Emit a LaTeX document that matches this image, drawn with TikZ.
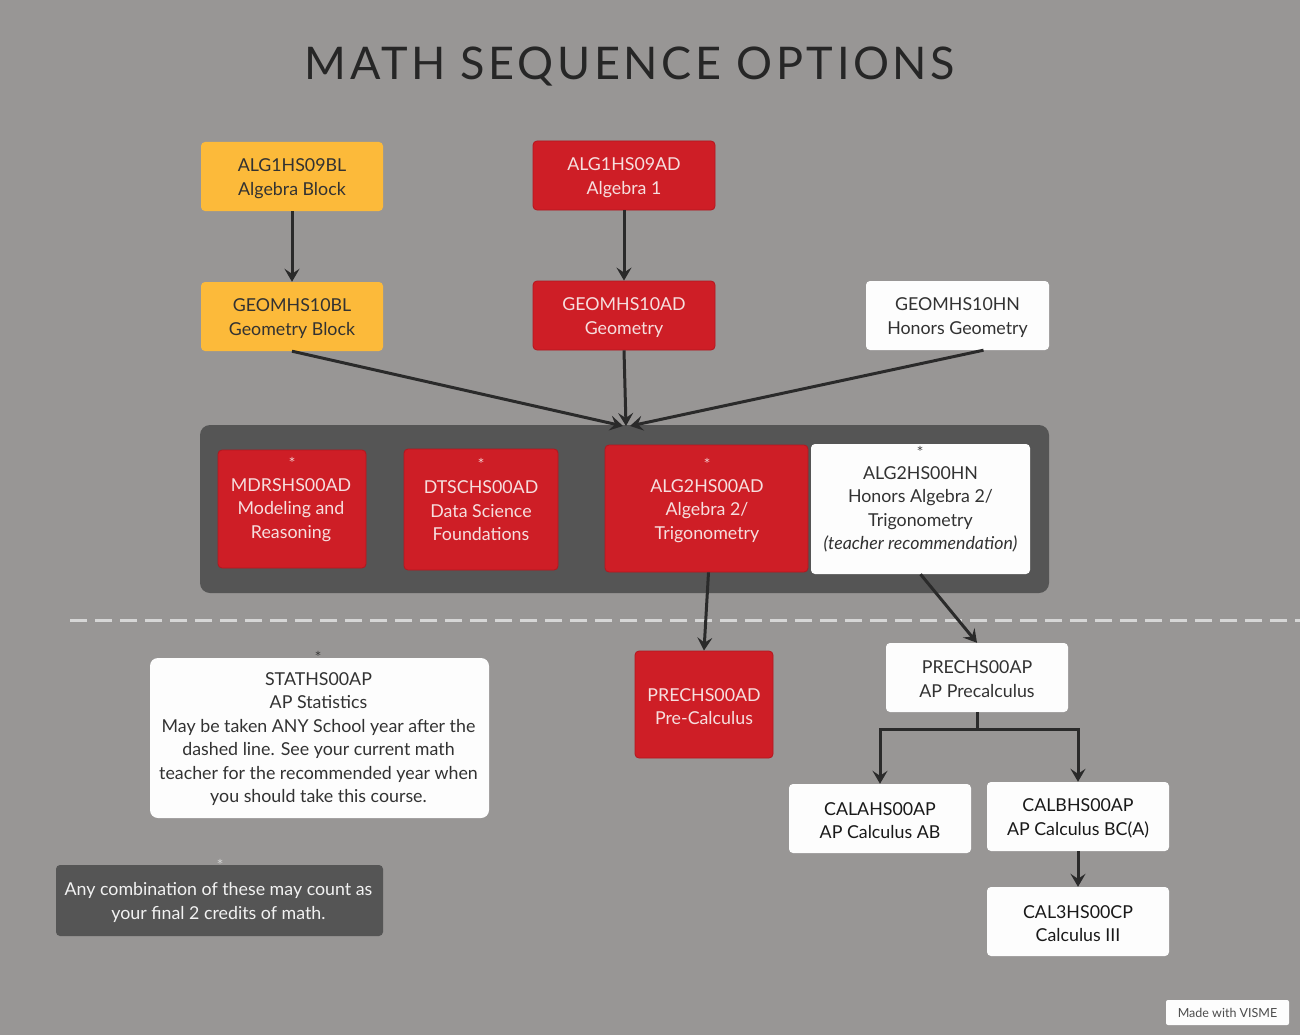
\documentclass[tikz,border=0pt]{standalone}
\usepackage{fontspec}
\setmainfont{Lato}
\newfontfamily\titlefont{Lato}[LetterSpace=8]
\newfontfamily\starfont{DejaVu Sans}
\usetikzlibrary{arrows.meta}
\definecolor{bg}{RGB}{152,150,149}
\definecolor{cred}{RGB}{206,30,38}
\definecolor{credd}{RGB}{180,22,30}
\definecolor{cyel}{RGB}{252,186,58}
\definecolor{cpanel}{RGB}{85,85,85}
\definecolor{cwhite}{RGB}{253,253,253}
\definecolor{redtxt}{RGB}{246,222,222}
\definecolor{darktxt}{RGB}{50,50,50}
\definecolor{arrcol}{RGB}{42,42,42}
\definecolor{dashcol}{RGB}{214,214,214}
\tikzset{
  box/.style={rounded corners=4pt, inner sep=0pt},
  redbox/.style={box, fill=cred, draw=credd, line width=0.8pt},
  yelbox/.style={box, fill=cyel},
  whitebox/.style={box, fill=cwhite},
  txt/.style={align=center, inner sep=0pt, yshift=-2pt, font=\fontsize{17.8}{23.5}\selectfont},
  redtext/.style={txt, text=redtxt},
  darktext/.style={txt, text=darktxt},
  star/.style={inner sep=0pt, anchor=north, font=\starfont\fontsize{11}{11}\selectfont},
  arr/.style={draw=arrcol, line width=3pt, -{Stealth[length=13pt,width=15pt,inset=5pt]}},
  seg/.style={draw=arrcol, line width=3pt},
}
\begin{document}
\begin{tikzpicture}[x=1pt,y=-1pt]
\fill[bg] (0,0) rectangle (1300,1035);
\useasboundingbox (0,0) rectangle (1300,1035);

% title
\node[inner sep=0pt, text=black!85, font=\titlefont\fontsize{45}{45}\selectfont] (title) at (630,67) {MATH SEQUENCE OPTIONS};

% top row
\node[yelbox, minimum width=182pt, minimum height=69pt] (alg1bl) at (292,176.5) {};
\node[darktext] (alg1blt) at (292,176.5) {ALG1HS09BL\\Algebra Block};
\node[yelbox, minimum width=182pt, minimum height=69pt] (geombl) at (292,316.5) {};
\node[darktext] (geomblt) at (292,316.5) {GEOMHS10BL\\Geometry Block};
\node[redbox, minimum width=182pt, minimum height=69pt] (alg1ad) at (624,175.5) {};
\node[redtext] (alg1adt) at (624,175.5) {ALG1HS09AD\\Algebra 1};
\node[redbox, minimum width=182pt, minimum height=69pt] (geomad) at (624,315.5) {};
\node[redtext] (geomadt) at (624,315.5) {GEOMHS10AD\\Geometry};
\node[whitebox, minimum width=183pt, minimum height=69pt] (geomhn) at (957.5,315.5) {};
\node[darktext] (geomhnt) at (957.5,315.5) {GEOMHS10HN\\Honors Geometry};

% panel
\node[box, rounded corners=10pt, fill=cpanel, minimum width=849pt, minimum height=168pt] (panel) at (624.5,509) {};
\node[redbox, minimum width=148pt, minimum height=118pt] (mdrs) at (292,509) {};
\node[star, text=redtxt] (mdrss) at (292,457) {*};
\node[redtext] (mdrst) at (291,508) {MDRSHS00AD\\Modeling and\\Reasoning};
\node[redbox, minimum width=154pt, minimum height=121pt] (dtsc) at (481,509.5) {};
\node[star, text=redtxt] (dtscs) at (481,458) {*};
\node[redtext] (dtsct) at (481,509) {DTSCHS00AD\\Data Science\\Foundations};
\node[redbox, minimum width=203pt, minimum height=127pt] (alg2ad) at (706.5,508.5) {};
\node[star, text=redtxt] (alg2ads) at (707,458) {*};
\node[redtext] (alg2adt) at (707,509) {ALG2HS00AD\\Algebra 2/\\Trigonometry};
\node[whitebox, minimum width=219pt, minimum height=130pt] (alg2hn) at (920.5,509) {};
\node[star, text=darktxt] (alg2hns) at (920,446) {*};
\node[darktext] (alg2hnt) at (920.5,507.5) {ALG2HS00HN\\Honors Algebra 2/\\Trigonometry\\\textit{(teacher recommendation)}};

% dashed line
\coordinate (dashL) at (70,620);
\coordinate (dashR) at (1300,620);
\draw[dashcol, line width=3pt, dash pattern=on 17pt off 8pt] (dashL) -- (dashR);

% lower left
\node[whitebox, rounded corners=8pt, minimum width=339pt, minimum height=160pt] (stat) at (319.5,738) {};
\node[star, text=darktxt] (stats) at (318,651) {*};
\node[darktext] (statt) at (318.5,737) {STATHS00AP\\AP Statistics\\May be taken ANY School year after the\\dashed line. See your current math\\teacher for the recommended year when\\you should take this course.};
\node[box, fill=cpanel, minimum width=327pt, minimum height=71pt] (note) at (219.5,900.5) {};
\node[star, text=white!85!black] (notes) at (220,859) {*};
\node[txt, text=white!95!black] (notet) at (218.5,900.5) {Any combination of these may count as\\your final 2 credits of math.};

% precalc
\node[redbox, minimum width=138pt, minimum height=107pt] (prec) at (704,704.5) {};
\node[redtext] (prect) at (704,704.5) {PRECHS00AD\\Pre-Calculus};
\node[whitebox, minimum width=182pt, minimum height=69pt] (precap) at (977,677.5) {};
\node[darktext] (precapt) at (977,677) {PRECHS00AP\\AP Precalculus};
\node[whitebox, minimum width=182pt, minimum height=69pt] (cala) at (880,818.5) {};
\node[darktext, text=black!90] (calat) at (880,818.5) {CALAHS00AP\\AP Calculus AB};
\node[whitebox, minimum width=182pt, minimum height=69pt] (calb) at (1078,816.5) {};
\node[darktext, text=black!90] (calbt) at (1078,816.5) {CALBHS00AP\\AP Calculus BC(A)};
\node[whitebox, minimum width=182pt, minimum height=69pt] (cal3) at (1078,921.5) {};
\node[darktext, text=black!90] (cal3t) at (1078,921.5) {CAL3HS00CP\\Calculus III};

% visme
\node[whitebox, rounded corners=2pt, minimum width=123pt, minimum height=25pt, text=black!70, font=\fontsize{12.5}{12.5}\selectfont] (visme) at (1227.5,1012.5) {Made with VISME};

% connectors
\draw[arr] (alg1bl.south) -- (geombl.north);
\draw[arr] (alg1ad.south) -- (geomad.north);
\coordinate (meetA) at (623,426);
\coordinate (meetB) at (626,426);
\coordinate (meetC) at (630,426);
\draw[arr] (geombl.south) -- (meetA);
\draw[arr] (geomad.south) -- (meetB);
\draw[arr] ([xshift=26pt]geomhn.south) -- (meetC);
\draw[arr] ([xshift=2pt]alg2ad.south) -- (prec.north);
\draw[arr] (alg2hn.south) -- (precap.north);
\coordinate (split) at (977,729);
\draw[seg] (precap.south) -- (split);
\draw[arr] (split) -| (cala.north);
\draw[arr] (split) -| (calb.north);
\draw[arr] (calb.south) -- (cal3.north);
\end{tikzpicture}
\end{document}
